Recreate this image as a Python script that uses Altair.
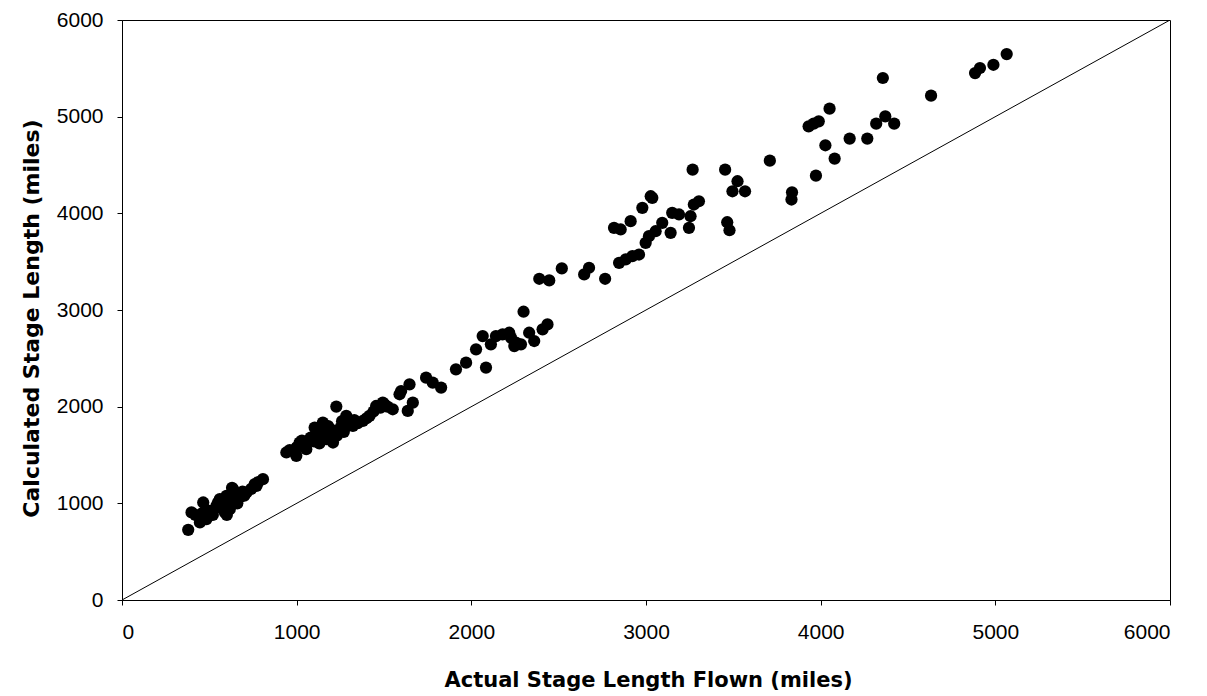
import altair as alt
import pandas as pd

# Actual stage length flown (miles)
actual = [
    379, 398, 465, 446, 484, 503, 541, 560, 589, 598, 617, 636, 674, 713, 770, 807,
    420, 520, 570, 600, 620, 650, 690, 740, 660, 550, 600, 630, 700, 760, 780, 480, 460,
    941, 998, 1017, 1055, 1103, 1150, 1170, 1208, 1227, 1284, 1322, 1379, 1417, 1455, 1503, 1550, 1589,
    960, 1000, 1030, 1050, 1080, 1100, 1120, 1130, 1150, 1160, 1180, 1190, 1200, 1230, 1250, 1260,
    1270, 1300, 1330, 1350, 1400, 1440, 1480, 1520,
    1493, 1598, 1646, 1665, 1636, 1741, 1779, 1827, 1912, 1970, 2084, 2027, 2065, 2112, 2141,
    2179, 2217, 2246, 2284, 2299, 2360, 2408, 2436, 2389, 2446, 2518, 2646, 2674, 2766, 2817,
    2855, 2846, 2884, 2922, 2960, 2998, 3017, 3055, 3093, 3141, 3150, 2912, 2979, 3027,
    2331, 2227, 2255,
    5065, 4989, 4912, 4884, 4632, 4356, 4051, 3989, 3960, 3931, 4027, 4080, 3973, 3836, 3833,
    4166, 4267, 4318, 4370, 4421, 3709, 3453, 3267, 3524, 3495, 3567, 3465, 3478, 3303, 3274,
    3255, 3246, 3189, 3036,
]

# Calculated stage length (miles)
calculated = [
    726, 906, 1009, 803, 837, 922, 974, 1043, 906, 1078, 940, 1147, 1061, 1113, 1181, 1250,
    880, 880, 950, 1000, 1050, 1100, 1120, 1150, 1000, 1010, 880, 1160, 1080, 1200, 1220, 930, 900,
    1526, 1491, 1629, 1560, 1784, 1836, 1663, 1629, 2001, 1904, 1801, 1852, 1904, 2007, 2025, 1973, 2128,
    1550, 1580, 1650, 1600, 1680, 1640, 1700, 1620, 1750, 1680, 1800, 1720, 1760, 1700, 1780, 1850,
    1740, 1820, 1860, 1830, 1880, 1950, 1990, 2000,
    2041, 2162, 2231, 2041, 1956, 2300, 2249, 2197, 2386, 2455, 2404, 2593, 2730, 2645, 2730,
    2748, 2765, 2627, 2645, 2982, 2679, 2800, 2851, 3323, 3306, 3430, 3368, 3437, 3323, 3850,
    3833, 3488, 3523, 3557, 3574, 3695, 3764, 3815, 3902, 3798, 4005, 3919, 4057, 4177,
    2765, 2714, 2662,
    5647, 5537, 5503, 5451, 5217, 5400, 5083, 4952, 4928, 4900, 4704, 4566, 4390, 4218, 4143,
    4773, 4773, 4928, 5003, 4928, 4545, 4452, 4452, 4332, 4228, 4228, 3908, 3825, 4125, 4091,
    3970, 3850, 3988, 4160,
]

# Reference line y = x
line_x = [0, 6000]
line_y = [0, 6000]

tick_values = [0, 1000, 2000, 3000, 4000, 5000, 6000]

pts = pd.DataFrame({"actual": actual, "calculated": calculated})
ref = pd.DataFrame({"actual": line_x, "calculated": line_y})

label_font = "Liberation Sans"
title_font = "DejaVu Sans"

x_enc = alt.X(
    "actual:Q",
    scale=alt.Scale(domain=[0, 6000], nice=False, zero=True),
    axis=alt.Axis(
        values=tick_values,
        format="d",
        title="Actual Stage Length Flown (miles)",
        grid=False,
        tickSize=5,
        labelPadding=16,
        titleX=526,
        titleY=86,
        titleBaseline="alphabetic",
        titleAlign="center",
    ),
)
y_enc = alt.Y(
    "calculated:Q",
    scale=alt.Scale(domain=[0, 6000], nice=False, zero=True),
    axis=alt.Axis(
        values=tick_values,
        format="d",
        title="Calculated Stage Length (miles)",
        grid=False,
        tickSize=5,
        labelPadding=14,
        titleAngle=270,
        titleX=-91,
        titleY=298,
        titleBaseline="middle",
        titleAlign="center",
        titleFontSize=22,
    ),
)

line = alt.Chart(ref).mark_line(color="black", strokeWidth=1, clip=True).encode(
    x=x_enc, y=y_enc
)
points = alt.Chart(pts).mark_circle(color="black", opacity=1, size=150).encode(
    x="actual:Q", y="calculated:Q"
)

chart = (
    alt.layer(line, points)
    .properties(
        width=1048,
        height=580,
        autosize=alt.AutoSizeParams(type="none"),
        padding={"left": 122, "top": 20, "right": 37, "bottom": 96},
        background="white",
    )
    .configure_view(stroke="black", strokeWidth=1)
    .configure_axis(
        domainColor="black",
        domainWidth=1,
        tickColor="black",
        tickWidth=1,
        labelColor="black",
        labelFont=label_font,
        labelFontSize=21,
        titleColor="black",
        titleFont=title_font,
        titleFontSize=21,
        titleFontWeight="bold",
    )
)

chart.save("out.html", embed_options={"renderer": "svg", "actions": False})
